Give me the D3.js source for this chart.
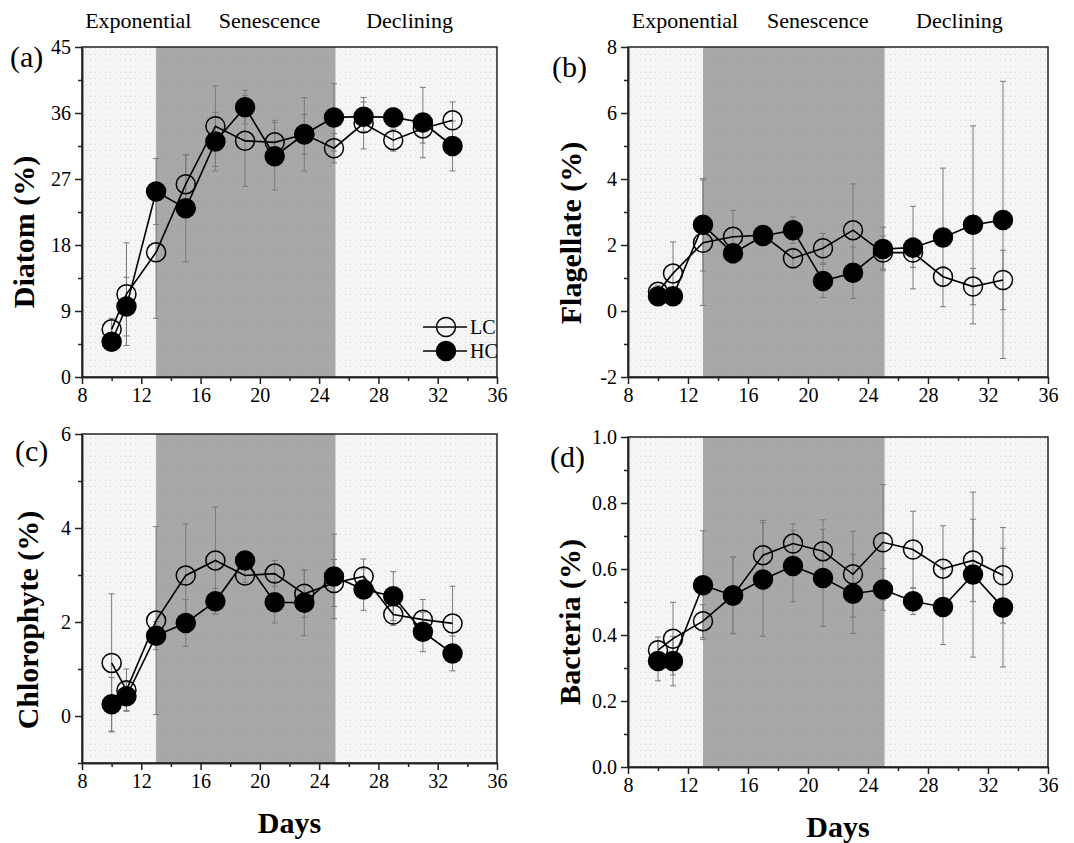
<!DOCTYPE html>
<head>
  <meta charset="utf-8">
  <script src="https://d3js.org/d3.v7.min.js"></script>
  <style>
    body { margin:0; background:#fff; }
    text { font-family: "Liberation Serif", "Times New Roman", serif; fill:#000; }
  </style>
</head>

<body>
  <script>

    // sampling days
    var days = [10, 11, 13, 15, 17, 19, 21, 23, 25, 27, 29, 31, 33];

    // (a) diatom
    var diatomLC    = [6.5, 11.3, 17.0, 26.3, 34.2, 32.2, 32.0, 33.1, 31.2, 34.6, 32.3, 33.9, 35.0];
    var diatomLCErr = [1.5, 7.0, 9.0, 4.0, 5.5, 6.2, 3.0, 5.0, 2.0, 3.5, 1.5, 2.0, 2.5];
    var diatomHC    = [4.8, 9.6, 25.3, 23.0, 32.1, 36.8, 30.1, 33.1, 35.4, 35.5, 35.4, 34.7, 31.5];
    var diatomHCErr = [1.2, 4.0, 4.5, 7.3, 4.0, 2.3, 4.6, 2.7, 4.6, 2.0, 1.3, 4.8, 3.4];

    // (b) flagellate
    var flagLC    = [0.58, 1.14, 2.07, 2.25, 2.30, 1.60, 1.90, 2.45, 1.77, 1.77, 1.04, 0.74, 0.94];
    var flagLCErr = [0.2, 0.95, 1.9, 0.8, 0.2, 0.3, 0.45, 1.4, 0.5, 0.45, 0.3, 0.55, 0.9];
    var flagHC    = [0.45, 0.45, 2.61, 1.75, 2.27, 2.45, 0.91, 1.16, 1.88, 1.92, 2.23, 2.61, 2.76];
    var flagHCErr = [0.2, 0.2, 1.4, 0.3, 0.2, 0.4, 0.5, 0.78, 0.66, 1.25, 2.1, 3.0, 4.2];

    // (c) chlorophyte
    var chloLC    = [1.13, 0.55, 2.03, 2.99, 3.31, 2.99, 3.03, 2.60, 2.83, 2.97, 2.16, 2.05, 1.97];
    var chloLCErr = [1.47, 0.45, 2.0, 1.1, 1.14, 0.15, 0.28, 0.5, 0.5, 0.37, 0.23, 0.43, 0.79];
    var chloHC    = [0.25, 0.42, 1.71, 1.98, 2.44, 3.31, 2.42, 2.41, 2.97, 2.69, 2.55, 1.79, 1.33];
    var chloHCErr = [0.57, 0.3, 0.3, 0.5, 0.27, 0.15, 0.44, 0.7, 0.9, 0.44, 0.52, 0.42, 0.37];

    // (d) bacteria
    var bactLC    = [0.354, 0.389, 0.442, 0.520, 0.642, 0.677, 0.654, 0.584, 0.681, 0.659, 0.601, 0.626, 0.581];
    var bactLCErr = [0.04, 0.11, 0.05, 0.116, 0.105, 0.06, 0.095, 0.13, 0.175, 0.116, 0.13, 0.125, 0.145];
    var bactHC    = [0.321, 0.321, 0.551, 0.520, 0.568, 0.609, 0.573, 0.525, 0.538, 0.502, 0.485, 0.583, 0.483];
    var bactHCErr = [0.06, 0.075, 0.165, 0.116, 0.172, 0.108, 0.147, 0.12, 0.063, 0.04, 0.114, 0.25, 0.18];

    // growth phases
    var phaseNames = ["Exponential", "Senescence", "Declining"];
    var phaseLabelDays = [11.8, 20.65, 30.1];
    var senescenceStart = 13, senescenceEnd = 25.1;

    var xTicks = [8, 12, 16, 20, 24, 28, 32, 36];
    var xMinor = [10, 14, 18, 22, 26, 30, 34];

    var width = 1074, height = 843;

    var svg = d3.select("body").append("svg")
      .attr("width", width)
      .attr("height", height);

    var defs = svg.append("defs");
    var pat = defs.append("pattern").attr("id", "dots")
      .attr("width", 5).attr("height", 6).attr("patternUnits", "userSpaceOnUse");
    pat.append("rect").attr("width", 5).attr("height", 6).attr("fill", "#f5f5f5");
    pat.append("rect").attr("width", 1).attr("height", 1).attr("fill", "#d6d6d6");
    var pat2 = defs.append("pattern").attr("id", "dots2")
      .attr("width", 5).attr("height", 6).attr("patternUnits", "userSpaceOnUse");
    pat2.append("rect").attr("width", 5).attr("height", 6).attr("fill", "#a8a8a8");
    pat2.append("rect").attr("x", 2).attr("y", 3).attr("width", 1).attr("height", 1).attr("fill", "#9c9c9c");

    // plain hyphen for negatives, like the original
    function intFmt(d) { return String(d3.format("d")(d)).replace("\u2212", "-"); }

    var panels = [
      { tag: "(a)", tagX: 10, tagY: 67, title: "Diatom (%)", titleX: 34, titleY: 232,
        left: 82, right: 497, top: 47, bottom: 377,
        yDomain: [0, 45], yTicks: [0, 9, 18, 27, 36, 45], yMinor: [4.5, 13.5, 22.5, 31.5, 40.5], yFmt: intFmt,
        lc: diatomLC, lcErr: diatomLCErr, hc: diatomHC, hcErr: diatomHCErr, phases: true, legend: true, days: false },
      { tag: "(b)", tagX: 552, tagY: 77, title: "Flagellate (%)", titleX: 581, titleY: 233,
        left: 628, right: 1048, top: 47, bottom: 377,
        yDomain: [-2, 8], yTicks: [-2, 0, 2, 4, 6, 8], yMinor: [-1, 1, 3, 5, 7], yFmt: intFmt,
        lc: flagLC, lcErr: flagLCErr, hc: flagHC, hcErr: flagHCErr, phases: true, legend: false, days: false },
      { tag: "(c)", tagX: 15, tagY: 461, title: "Chlorophyte (%)", titleX: 38, titleY: 620,
        left: 82, right: 497, top: 434, bottom: 763,
        yDomain: [-1, 6], yTicks: [0, 2, 4, 6], yMinor: [-1, 1, 3, 5], yFmt: intFmt,
        lc: chloLC, lcErr: chloLCErr, hc: chloHC, hcErr: chloHCErr, phases: false, legend: false, days: true },
      { tag: "(d)", tagX: 550, tagY: 467, title: "Bacteria (%)", titleX: 580, titleY: 622,
        left: 628, right: 1048, top: 437, bottom: 767,
        yDomain: [0, 1], yTicks: [0, 0.2, 0.4, 0.6, 0.8, 1.0], yMinor: [0.1, 0.3, 0.5, 0.7, 0.9], yFmt: d3.format(".1f"),
        lc: bactLC, lcErr: bactLCErr, hc: bactHC, hcErr: bactHCErr, phases: false, legend: false, days: true }
    ];

    panels.forEach(function(p) {
      var x = d3.scaleLinear().domain([8, 36]).range([p.left, p.right]);
      var y = d3.scaleLinear().domain(p.yDomain).range([p.bottom, p.top]);
      var g = svg.append("g");

      // background + senescence band
      g.append("rect")
        .attr("x", p.left).attr("y", p.top)
        .attr("width", p.right - p.left).attr("height", p.bottom - p.top)
        .attr("fill", "url(#dots)");
      g.append("rect")
        .attr("x", x(senescenceStart)).attr("y", p.top)
        .attr("width", x(senescenceEnd) - x(senescenceStart)).attr("height", p.bottom - p.top)
        .attr("fill", "url(#dots2)");

      var series = [
        { v: p.lc, e: p.lcErr, fill: "none" },
        { v: p.hc, e: p.hcErr, fill: "#000" }
      ];

      // error bars
      series.forEach(function(s) {
        var eg = g.append("g").attr("stroke", "#7a7a7a").attr("stroke-width", 1);
        days.forEach(function(d, i) {
          var hi = y(s.v[i] + s.e[i]), lo = y(s.v[i] - s.e[i]), cx = x(d);
          eg.append("line").attr("x1", cx).attr("x2", cx).attr("y1", hi).attr("y2", lo);
          eg.append("line").attr("x1", cx - 3).attr("x2", cx + 3).attr("y1", hi).attr("y2", hi);
          eg.append("line").attr("x1", cx - 3).attr("x2", cx + 3).attr("y1", lo).attr("y2", lo);
        });
      });

      var line = d3.line()
        .x(function(d, i) { return x(days[i]); })
        .y(function(d) { return y(d); });

      series.forEach(function(s) {
        g.append("path").datum(s.v)
          .attr("d", line)
          .attr("fill", "none").attr("stroke", "#000").attr("stroke-width", 1.6);
        g.selectAll(null).data(s.v).enter()
          .append("circle")
          .attr("cx", function(d, i) { return x(days[i]); })
          .attr("cy", function(d) { return y(d); })
          .attr("r", 9.5)
          .attr("fill", s.fill)
          .attr("stroke", "#000").attr("stroke-width", 1.5);
      });

      // frame
      g.append("rect")
        .attr("x", p.left).attr("y", p.top)
        .attr("width", p.right - p.left).attr("height", p.bottom - p.top)
        .attr("fill", "none").attr("stroke", "#222").attr("stroke-width", 1.5);

      // axes
      g.append("g").attr("transform", "translate(0," + p.bottom + ")")
        .call(d3.axisBottom(x).tickValues(xTicks).tickSize(7).tickSizeOuter(0).tickPadding(4));
      g.append("g").attr("transform", "translate(0," + p.bottom + ")")
        .call(d3.axisBottom(x).tickValues(xMinor).tickSize(4).tickSizeOuter(0).tickFormat(""));
      g.append("g").attr("transform", "translate(" + p.left + ",0)")
        .call(d3.axisLeft(y).tickValues(p.yTicks).tickSize(7).tickSizeOuter(0).tickPadding(4).tickFormat(p.yFmt));
      g.append("g").attr("transform", "translate(" + p.left + ",0)")
        .call(d3.axisLeft(y).tickValues(p.yMinor).tickSize(4).tickSizeOuter(0).tickFormat(""));

      g.selectAll(".domain").attr("stroke", "#222").attr("stroke-width", 1.5);
      g.selectAll(".tick line").attr("stroke", "#222").attr("stroke-width", 1.5);
      g.selectAll(".tick text")
        .attr("font-family", "Liberation Serif, Times New Roman, serif")
        .attr("font-size", 20).attr("fill", "#000");

      // labels
      g.append("text")
        .attr("x", p.tagX).attr("y", p.tagY)
        .attr("font-size", 30)
        .text(p.tag);

      g.append("text")
        .attr("transform", "translate(" + p.titleX + "," + p.titleY + ") rotate(-90)")
        .attr("text-anchor", "middle")
        .attr("font-size", 30).attr("font-weight", "bold")
        .text(p.title);

      if (p.days) {
        g.append("text")
          .attr("x", (p.left + p.right) / 2).attr("y", p.bottom + 70)
          .attr("text-anchor", "middle")
          .attr("font-size", 30).attr("font-weight", "bold")
          .text("Days");
      }

      if (p.phases) {
        g.selectAll(null).data(phaseNames).enter()
          .append("text")
          .attr("x", function(d, i) { return x(phaseLabelDays[i]); })
          .attr("y", 28)
          .attr("text-anchor", "middle")
          .attr("font-size", 22)
          .text(function(d) { return d; });
      }

      if (p.legend) {
        var lg = g.append("g");
        [["LC", "none", 327], ["HC", "#000", 351]].forEach(function(it) {
          lg.append("line").attr("x1", 423).attr("x2", 467).attr("y1", it[2]).attr("y2", it[2])
            .attr("stroke", "#000").attr("stroke-width", 1.6);
          lg.append("circle").attr("cx", 446).attr("cy", it[2]).attr("r", 9.5)
            .attr("fill", it[1]).attr("stroke", "#000").attr("stroke-width", 1.5);
          lg.append("text").attr("x", 470).attr("y", it[2] + 7)
            .attr("font-size", 20).text(it[0]);
        });
      }
    });

  </script>
</body>
